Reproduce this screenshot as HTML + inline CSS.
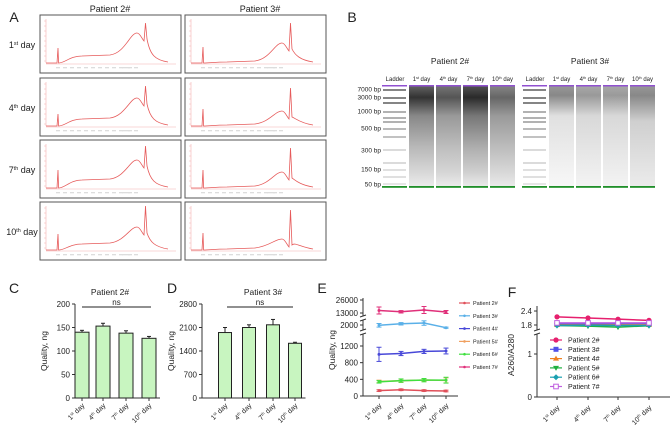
<!DOCTYPE html>
<html><head><meta charset="utf-8"><style>
html,body{margin:0;padding:0;background:#fff;}
svg{display:block;font-family:"Liberation Sans",Arial,sans-serif;}
</style></head><body>
<svg id="fig" width="671" height="435" viewBox="0 0 671 435" xmlns="http://www.w3.org/2000/svg">
<g id="pA"></g>
<g id="pB"></g>
<g id="pC"></g>
<g id="pD"></g>
<g id="pE"></g>
<g id="pF"></g>
</svg>
<script>
// ---------- data ----------
const dayLabels = ["1","4","7","10"];
const daySup = ["st","th","th","th"];
// Panel A trace shape parameters (per row, per patient)
const aSpike1 = [[15,12,18,16],[16,17,18,17]];
const aPlateau = [[7,7,8,6],[1,1,1,1]];
const aPeak = [[30,28,28,23],[20,15,16,11]];
const aSpike2 = [[40,40,42,44],[40,38,40,40]];
// Panel C
const cValues = [140,153,138,127];
const cErrors = [4,6,5,4];
const cTicks = [0,50,100,150,200];
// Panel D
const dValues = [1950,2100,2180,1630];
const dErrors = [150,80,160,30];
const dTicks = [0,700,1400,2100,2800];
// Panel E
const eSeries = ["Patient 2#","Patient 3#","Patient 4#","Patient 5#","Patient 6#","Patient 7#"];
const eColors = ["#e0505a","#5ab0e8","#4848d8","#f0a060","#40e040","#e0307a"];
const eP2 = [130,150,130,120];
const eP3 = [1980,2080,2130,1820];
const eP4 = [1000,1020,1070,1080];
const eP5 = [350,365,385,375];
const eP6 = [340,370,380,380];
const eP7 = [15500,14200,16000,14000];
const eErr = [[20,20,20,20],[120,80,150,40],[170,50,50,70],[30,40,30,60],[30,40,40,70],[3500,1200,3500,1500]];
const eTicks = [0,400,800,1200,2000,13000,26000];
// Panel F
const fSeries = ["Patient 2#","Patient 3#","Patient 4#","Patient 5#","Patient 6#","Patient 7#"];
const fColors = ["#e6206e","#5050e8","#f08020","#20b040","#1aa0b0","#c060e0"];
const fP2 = [2.15,2.1,2.05,2.0];
const fP3 = [1.85,1.85,1.86,1.86];
const fP4 = [1.8,1.8,1.8,1.8];
const fP5 = [1.78,1.75,1.71,1.77];
const fP6 = [1.78,1.79,1.78,1.78];
const fP7 = [1.89,1.89,1.89,1.89];
const fTicks = [0,1,1.8,2.4];

const NS="http://www.w3.org/2000/svg";
function el(tag,attrs,parent,text){const e=document.createElementNS(NS,tag);for(const k in attrs)e.setAttribute(k,attrs[k]);if(text!==undefined)e.textContent=text;parent.appendChild(e);return e;}
function label(parent,x,y,t,size,anchor){const e=el('text',{x:x,y:y,'font-size':size,'text-anchor':anchor||'middle',fill:'#222'},parent,t);return e;}
function dayText(parent,x,y,i,size,rot){
  const t=el('text',{x:x,y:y,'font-size':size,'text-anchor':rot?'end':'middle',fill:'#222'},parent);
  if(rot)t.setAttribute('transform','rotate(-45 '+x+' '+y+')');
  el('tspan',{},t,dayLabels[i]);
  el('tspan',{'font-size':size*0.6,dy:-size*0.35},t,daySup[i]);
  el('tspan',{dy:size*0.35},t,' day');
  return t;
}

// ---------- Panel A ----------
const A=document.getElementById('pA');
label(A,14,22,'A',14);
const pa1=label(A,110,12,'Patient 2#',9);
const pa2=label(A,260,12,'Patient 3#',9);
const boxX=[40,185], boxY=[15,78,140,202], boxW=141, boxH=58;
for(let r=0;r<4;r++){
  const rl=dayText(A,22,boxY[r]+33,r,9,false);
  
  
  for(let p=0;p<2;p++){
    const x0=boxX[p], y0=boxY[r];
    const g=el('g',{},A);
    
    
    el('rect',{x:x0,y:y0,width:boxW,height:boxH,fill:'#fff',stroke:'#555','stroke-width':1},g);
    const b=y0+48;
    el('line',{x1:x0+6,y1:y0+4,x2:x0+6,y2:b,stroke:'#f3b0b0','stroke-width':0.6},g);
    el('line',{x1:x0+6,y1:b+1,x2:x0+136,y2:b+1,stroke:'#f3b0b0','stroke-width':0.6},g);
    for(let k=0;k<9;k++)el('line',{x1:x0+4,y1:y0+6+k*5,x2:x0+6,y2:y0+6+k*5,stroke:'#f3b0b0','stroke-width':0.5},g);
    for(let k=0;k<14;k++)el('rect',{x:x0+16+k*(k<11?7:6),y:b+4,width:4,height:1.3,fill:'#ddd'},g);
    const s1=aSpike1[p][r], pl=aPlateau[p][r], pk=aPeak[p][r], s2=aSpike2[p][r];
    let d='M'+(x0+6)+' '+b+' L'+(x0+17)+' '+b+' L'+(x0+18)+' '+(b-s1)+' L'+(x0+18.6)+' '+b+
      ' C'+(x0+25)+' '+b+' '+(x0+30)+' '+(b-pl)+' '+(x0+42)+' '+(b-pl)+
      ' L'+(x0+70)+' '+(b-pl-1)+
      ' C'+(x0+85)+' '+(b-pl-3)+' '+(x0+90)+' '+(b-pk)+' '+(x0+97)+' '+(b-pk)+
      ' C'+(x0+100)+' '+(b-pk)+' '+(x0+102)+' '+(b-pk+6)+' '+(x0+104)+' '+(b-pk+8)+
      ' L'+(x0+105.5)+' '+(b-s2)+' L'+(x0+107)+' '+(b-pk+6)+
      ' C'+(x0+110)+' '+(b-8)+' '+(x0+115)+' '+(b-3)+' '+(x0+128)+' '+(b-1);
    el('path',{d:d,fill:'none',stroke:'#e65a5a','stroke-width':0.8},g);
  }
}

// ---------- Panel B ----------
const B=document.getElementById('pB');
label(B,352,22,'B',14);
const defs=el('defs',{},B);
function grad(id,stops){const gr=el('linearGradient',{id:id,x1:0,y1:0,x2:0,y2:1},defs);stops.forEach(s=>el('stop',{offset:s[0],'stop-color':s[1]},gr));}
grad('g2a',[[0,'#666'],[0.12,'#333'],[0.3,'#888'],[0.6,'#b8b8b8'],[0.85,'#d8d8d8'],[1,'#eee']]);
grad('g2b',[[0,'#777'],[0.12,'#555'],[0.3,'#999'],[0.6,'#bdbdbd'],[0.85,'#d6d6d6'],[1,'#eee']]);
grad('g2c',[[0,'#555'],[0.12,'#2a2a2a'],[0.3,'#777'],[0.6,'#adadad'],[0.85,'#d0d0d0'],[1,'#eee']]);
grad('g2d',[[0,'#888'],[0.12,'#666'],[0.3,'#9a9a9a'],[0.6,'#bcbcbc'],[0.85,'#d8d8d8'],[1,'#ececec']]);
grad('g3a',[[0,'#999'],[0.1,'#888'],[0.3,'#e0e0e0'],[1,'#f8f8f8']]);
grad('g3b',[[0,'#aaa'],[0.1,'#999'],[0.3,'#d8d8d8'],[1,'#f4f4f4']]);
grad('g3c',[[0,'#aaa'],[0.1,'#9a9a9a'],[0.3,'#d8d8d8'],[1,'#f4f4f4']]);
grad('g3d',[[0,'#9a9a9a'],[0.1,'#888'],[0.35,'#cfcfcf'],[1,'#ececec']]);
const gelTop=85, gelBot=188;
const bpLabels=["7000 bp","3000 bp","1000 bp","500 bp","300 bp","150 bp","50 bp"];
const bpY=[89,97,111,128,150,169,184];
bpLabels.forEach((t,i)=>{const e=label(B,381,bpY[i]+2.5,t,6.5,'end');});
const ladderY=[90,98,103,112,118,122,129,137,150,163,170,177,184];
const ladderW=[1.3,1.3,1.3,1,1,1,0.9,0.8,0.7,0.7,0.6,0.6,0.5];
const groups=[{x:382,title:'Patient 2#',grads:['g2a','g2b','g2c','g2d']},{x:522,title:'Patient 3#',grads:['g3a','g3b','g3c','g3d']}];
groups.forEach((G,gi)=>{
  const gg=el('g',{},B);
  
  
  label(gg,G.x+68,64,G.title,8.5);
  label(gg,G.x+13,81,'Ladder',6);
  const lw=25, gap=2;
  // ladder
  el('rect',{x:G.x,y:gelTop,width:lw,height:gelBot-gelTop,fill:'#fff'},gg);
  ladderY.forEach((y,i)=>el('rect',{x:G.x+1,y:y-ladderW[i]/2,width:lw-2,height:ladderW[i],fill:i<3?'#444':(i<8?'#666':'#999')},gg));
  el('rect',{x:G.x,y:gelTop,width:lw,height:1.5,fill:'#9050d0'},gg);
  el('rect',{x:G.x,y:gelBot-2,width:lw,height:1.8,fill:'#20902a'},gg);
  for(let l=0;l<4;l++){
    const lx=G.x+lw+gap+l*(lw+gap);
    const t=dayText(gg,lx+lw/2,81,l,6,false);
    const lane=el('rect',{x:lx,y:gelTop,width:lw,height:gelBot-gelTop,fill:'url(#'+G.grads[l]+')'},gg);
    
    
    el('rect',{x:lx,y:gelTop,width:lw,height:1.5,fill:'#9050d0'},gg);
    el('rect',{x:lx,y:gelBot-2,width:lw,height:1.8,fill:'#20902a'},gg);
  }
});

// ---------- bar panels C & D ----------
function barPanel(host,letter,lx,title,tx,axX,vals,errs,ticks,ymax,centers,bw,nsX1,nsX2,prefix){
  label(host,lx,293,letter,14);
  const tt=label(host,tx,295,title,8.5);
  const y0=398,y1=304;
  const ys=v=>y0-(v/ymax)*(y0-y1);
  const yl=label(host,axX-28,351,'Quality, ng',8.5);yl.setAttribute('transform','rotate(-90 '+(axX-28)+' 351)');
  el('line',{x1:axX,y1:y1,x2:axX,y2:y0,stroke:'#333','stroke-width':1},host);
  el('line',{x1:axX,y1:y0,x2:centers[3]+bw/2+4,y2:y0,stroke:'#333','stroke-width':1},host);
  ticks.forEach(t=>{el('line',{x1:axX-3,y1:ys(t),x2:axX,y2:ys(t),stroke:'#333','stroke-width':1},host);
    const tl=label(host,axX-5,ys(t)+3,String(t),8,'end');});
  vals.forEach((v,i)=>{
    const cx=centers[i];
    el('line',{x1:cx,y1:ys(v),x2:cx,y2:ys(v+errs[i]),stroke:'#222','stroke-width':1},host);
    el('line',{x1:cx-2,y1:ys(v+errs[i]),x2:cx+2,y2:ys(v+errs[i]),stroke:'#222','stroke-width':1},host);
    const r=el('rect',{x:cx-bw/2,y:ys(v),width:bw,height:y0-ys(v),fill:'#c8f5c0',stroke:'#222','stroke-width':1},host);
    
    
    el('line',{x1:cx,y1:y0,x2:cx,y2:y0+3,stroke:'#333'},host);
    const dl=dayText(host,cx+3,y0+8,i,7,true);
  });
  el('line',{x1:nsX1,y1:307,x2:nsX2,y2:307,stroke:'#222','stroke-width':1},host);
  const ns=label(host,(nsX1+nsX2)/2,305,'ns',8);
}
barPanel(document.getElementById('pC'),'C',14,'Patient 2#',110,75,cValues,cErrors,cTicks,200,[82,103,126,149],14,82,151,'panel-c');
barPanel(document.getElementById('pD'),'D',172,'Patient 3#',263,202,dValues,dErrors,dTicks,2800,[225,249,273,295],13,227,293,'panel-d');

// ---------- Panel E ----------
const E=document.getElementById('pE');
label(E,322,293,'E',14);
const exX=[379,401,424,446];
function eY(v){
  if(v<=1400) return 396-v*(50/1200);
  if(v<=3000) return 325-(v-2000)*0.015;
  return 313-(v-13000)*(13/13000);
}
const eAx=363;
const eyt=label(E,335,350,'Quality, ng',8.5);eyt.setAttribute('transform','rotate(-90 335 350)');
el('line',{x1:eAx,y1:298,x2:eAx,y2:316,stroke:'#333'},E);
el('line',{x1:eAx,y1:320,x2:eAx,y2:330,stroke:'#333'},E);
el('line',{x1:eAx,y1:334,x2:eAx,y2:396,stroke:'#333'},E);
[[316,320],[330,334]].forEach(b=>{el('line',{x1:eAx-3,y1:b[0]+1,x2:eAx+3,y2:b[0]-1,stroke:'#333'},E);el('line',{x1:eAx-3,y1:b[1]+1,x2:eAx+3,y2:b[1]-1,stroke:'#333'},E);});
el('line',{x1:eAx,y1:396,x2:458,y2:396,stroke:'#333'},E);
eTicks.forEach(t=>{el('line',{x1:eAx-3,y1:eY(t),x2:eAx,y2:eY(t),stroke:'#333'},E);
  const tl=label(E,eAx-5,eY(t)+3,String(t),8,'end');});
exX.forEach((x,i)=>{el('line',{x1:x,y1:396,x2:x,y2:399,stroke:'#333'},E);
  const dl=dayText(E,x+3,406,i,7,true);});
const eData=[eP2,eP3,eP4,eP5,eP6,eP7];
eData.forEach((s,k)=>{
  const g=el('g',{},E);
  
  
  const pts=s.map((v,i)=>exX[i]+','+eY(v)).join(' ');
  el('polyline',{points:pts,fill:'none',stroke:eColors[k],'stroke-width':1.5},g);
  s.forEach((v,i)=>{const e=eErr[k][i];const yt=eY(v+e),yb=eY(Math.max(0,v-e));
    el('line',{x1:exX[i],y1:yt,x2:exX[i],y2:yb,stroke:eColors[k],'stroke-width':1},g);
    el('line',{x1:exX[i]-2.5,y1:yt,x2:exX[i]+2.5,y2:yt,stroke:eColors[k]},g);
    el('line',{x1:exX[i]-2.5,y1:yb,x2:exX[i]+2.5,y2:yb,stroke:eColors[k]},g);
    el('circle',{cx:exX[i],cy:eY(v),r:1.5,fill:eColors[k]},g);});
  const ly=303+k*12.8;
  const lg=el('g',{},E);
  
  
  el('line',{x1:459,y1:ly,x2:470,y2:ly,stroke:eColors[k],'stroke-width':1.2},lg);
  el('circle',{cx:464.5,cy:ly,r:1.3,fill:eColors[k]},lg);
  label(lg,473,ly+2,eSeries[k],5.5,'start');
});

// ---------- Panel F ----------
const F=document.getElementById('pF');
label(F,512,297,'F',14);
const fX=[557,588,618,649];
function fY(v){ if(v<=1.5) return 397-v*43; return 325-(v-1.8)*23.3; }
const fAx=537;
const fyt=label(F,514,355,'A260/A280',8.5);fyt.setAttribute('transform','rotate(-90 514 355)');
el('line',{x1:fAx,y1:306,x2:fAx,y2:330,stroke:'#333'},F);
el('line',{x1:fAx,y1:334,x2:fAx,y2:397,stroke:'#333'},F);
el('line',{x1:fAx-3,y1:331,x2:fAx+3,y2:329,stroke:'#333'},F);
el('line',{x1:fAx-3,y1:335,x2:fAx+3,y2:333,stroke:'#333'},F);
el('line',{x1:fAx,y1:397,x2:670,y2:397,stroke:'#333'},F);
fTicks.forEach(t=>{el('line',{x1:fAx-3,y1:fY(t),x2:fAx,y2:fY(t),stroke:'#333'},F);
  const tl=label(F,fAx-5,fY(t)+3,String(t),8,'end');});
fX.forEach((x,i)=>{el('line',{x1:x,y1:397,x2:x,y2:400,stroke:'#333'},F);
  const dl=dayText(F,x+3,408,i,7,true);});
const fData=[fP2,fP3,fP4,fP5,fP6,fP7];
function marker(g,k,x,y){
  const c=fColors[k];
  if(k===0) el('circle',{cx:x,cy:y,r:2.6,fill:c},g);
  else if(k===1) el('rect',{x:x-2.5,y:y-2.5,width:5,height:5,fill:c},g);
  else if(k===2) el('path',{d:'M'+x+' '+(y-3)+' L'+(x+3)+' '+(y+2)+' L'+(x-3)+' '+(y+2)+'Z',fill:c},g);
  else if(k===3) el('path',{d:'M'+x+' '+(y+3)+' L'+(x+3)+' '+(y-2)+' L'+(x-3)+' '+(y-2)+'Z',fill:c},g);
  else if(k===4) el('path',{d:'M'+x+' '+(y-3)+' L'+(x+3)+' '+y+' L'+x+' '+(y+3)+' L'+(x-3)+' '+y+'Z',fill:c},g);
  else el('rect',{x:x-2.3,y:y-2.3,width:4.6,height:4.6,fill:'#fff',stroke:c,'stroke-width':1},g);
}
fData.forEach((s,k)=>{
  const g=el('g',{},F);
  
  
  el('polyline',{points:s.map((v,i)=>fX[i]+','+fY(v)).join(' '),fill:'none',stroke:fColors[k],'stroke-width':1.5},g);
  s.forEach((v,i)=>marker(g,k,fX[i],fY(v)));
  const ly=340+k*9.3;
  const lg=el('g',{},F);
  
  
  el('line',{x1:550,y1:ly,x2:562,y2:ly,stroke:fColors[k],'stroke-width':1.2},lg);
  marker(lg,k,556,ly);
  label(lg,568,ly+2.5,fSeries[k],7,'start');
});
</script>
</body></html>
